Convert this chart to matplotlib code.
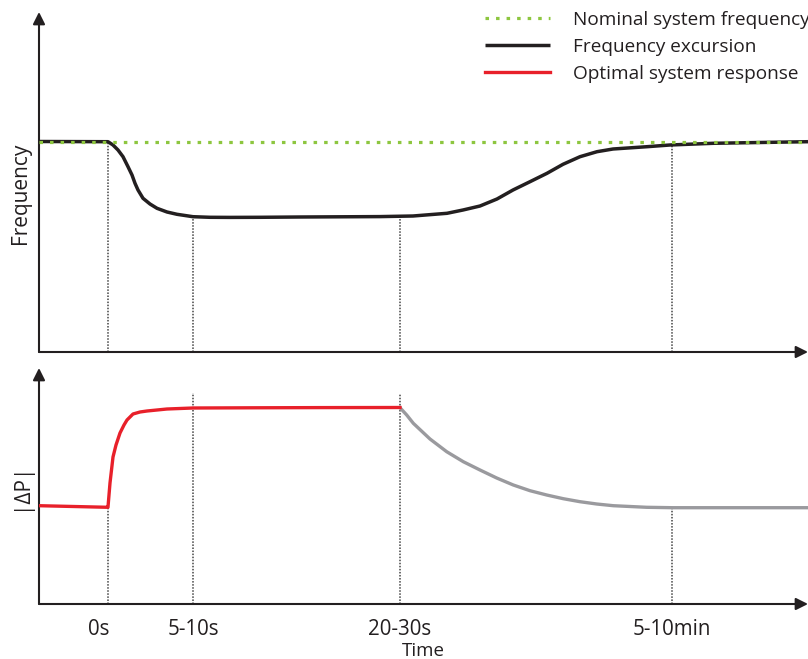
import matplotlib
matplotlib.use("Agg")
import matplotlib.pyplot as plt
import matplotlib.transforms as mtransforms

plt.rcParams['font.family'] = ['Open Sans', 'DejaVu Sans']

ink = '#231f20'

# time positions (arbitrary units, 0 = event)
tick_times = [0, 85, 292, 564]
tick_labels = ['0s', '5-10s', '20-30s', '5-10min']

# frequency panel
nominal_freq = 210.5
freq_t = [-69, 0, 5, 10, 15, 20, 24, 27, 30, 35, 42, 49, 59, 69, 85, 102, 122, 152,
          192, 232, 272, 305, 339, 355, 372, 389, 405, 422, 439, 455, 472, 489,
          505, 539, 562, 605, 652, 700]
freq = [210.5, 210.3, 207, 202, 195.3, 185.3, 177, 168.7, 162, 153.7, 148, 143.7, 140,
        137.7, 135.3, 134.7, 134.6, 134.7, 135, 135.2, 135.4, 136, 138.7, 142, 146,
        153, 162, 170.3, 178.7, 187.7, 195.3, 200.3, 203, 205.3, 207, 208.7, 209.5,
        210.3]

# power panel
resp_t = [-69, 0, 0, 1, 2, 3.5, 5, 8, 12, 16, 19, 25, 32, 39, 59, 85, 142, 212, 292]
resp = [98.3, 96.7, 97, 109, 121, 134, 147, 159, 171, 179, 184, 190, 192, 193, 195,
        196, 196.2, 196.4, 196.5]
decay_t = [292, 298.7, 305.3, 322, 338.7, 355.3, 372, 388.7, 405.3, 422, 438.7, 455.3,
           472, 488.7, 505.3, 538.7, 565, 632, 700]
decay = [196.3, 189, 180.7, 165, 152.3, 142.3, 134, 126, 119, 113.3, 109, 105.3,
         102.3, 100, 98.3, 96.7, 96.3, 96.3, 96.3]

# heights where the dotted guides stop
guide_top_freq = [210.5, 135, 135.8, 207]
guide_top_power = [97, 211, 210, 96.3]

W, H = 808, 659
fig = plt.figure(figsize=(W / 100, H / 100), dpi=100)
ax1 = fig.add_axes([39 / W, (H - 352) / H, 769 / W, 340 / H])
ax2 = fig.add_axes([39 / W, (H - 604) / H, 769 / W, 236 / H])

ax1.set_xlim(-69, 700)
ax1.set_ylim(0, 340)
ax2.set_xlim(-69, 700)
ax2.set_ylim(0, 236)

for ax in (ax1, ax2):
    for s in ax.spines.values():
        s.set_visible(False)
    ax.set_yticks([])
    ax.annotate('', xy=(1, 0), xytext=(0, 0), xycoords='axes fraction',
                arrowprops=dict(arrowstyle='-|>', color=ink, lw=1.5, mutation_scale=18,
                                shrinkA=0, shrinkB=0), annotation_clip=False)
    ax.annotate('', xy=(0, 1), xytext=(0, 0), xycoords='axes fraction',
                arrowprops=dict(arrowstyle='-|>', color=ink, lw=1.5, mutation_scale=18,
                                shrinkA=0, shrinkB=0), annotation_clip=False)

ax1.set_xticks([])
ax2.set_xticks(tick_times)
ax2.set_xticklabels(tick_labels, fontsize=14.8, color=ink)
ax2.tick_params(axis='x', length=0, pad=11)
ax2.set_xlabel('Time', fontsize=13.5, color=ink, labelpad=1)
# the "0s" label sits a little left of its guide in the original
lbl0 = ax2.get_xticklabels()[0]
lbl0.set_transform(lbl0.get_transform() +
                   mtransforms.ScaledTranslation(-0.09, 0, fig.dpi_scale_trans))

for t, top in zip(tick_times, guide_top_freq):
    ax1.plot([t, t], [0, top], color='#444444', lw=1.1, ls=(0, (1, 1)), zorder=1)
for t, top in zip(tick_times, guide_top_power):
    ax2.plot([t, t], [0, top], color='#444444', lw=1.1, ls=(0, (1, 1)), zorder=1)

exc, = ax1.plot(freq_t, freq, color=ink, lw=2.5, solid_capstyle='butt',
                solid_joinstyle='round', zorder=3, label='Frequency excursion')
nom, = ax1.plot([-69, 700], [nominal_freq, nominal_freq], color='#8dc63f', lw=2.3,
                ls=(0, (1.1, 2.2)), dash_capstyle='butt', zorder=4,
                label='Nominal system frequency')
opt, = ax2.plot(resp_t, resp, color='#e8202a', lw=2.4, solid_joinstyle='round',
                zorder=4, label='Optimal system response')
ax2.plot(decay_t, decay, color='#9a9a9e', lw=2.4, solid_joinstyle='round', zorder=3)

ax1.set_ylabel('Frequency', fontsize=15, color=ink)
ax2.set_ylabel('|ΔP|', fontsize=15, color=ink)
ax1.yaxis.set_label_coords(-8 / 769, 159 / 340)
ax2.yaxis.set_label_coords(-8 / 769, 0.5)

fig.legend(handles=[nom, exc, opt], loc='upper left', bbox_to_anchor=(485 / W, 0.984),
           frameon=False, fontsize=13.7, handlelength=3.42, handletextpad=1.2,
           labelspacing=0.48, borderpad=0, borderaxespad=0, labelcolor=ink)

fig.savefig('out.png', dpi=100)
